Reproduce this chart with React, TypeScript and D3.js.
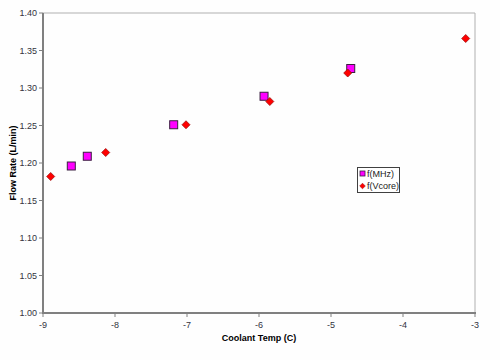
import React from "react";
import * as d3 from "d3";

const mhzX = [-8.607, -8.385, -7.185, -5.93, -4.726];
const mhzY = [1.196, 1.209, 1.251, 1.289, 1.326];
const vcoreX = [-8.893, -8.129, -7.014, -5.85, -4.768, -3.129];
const vcoreY = [1.182, 1.214, 1.251, 1.282, 1.32, 1.366];
const xTicks = [-9, -8, -7, -6, -5, -4, -3];
const yTicks = [1.0, 1.05, 1.1, 1.15, 1.2, 1.25, 1.3, 1.35, 1.4];
const seriesNames = ["f(MHz)", "f(Vcore)"];
const xLabel = "Coolant Temp (C)";
const yLabel = "Flow Rate (L/min)";

export default function App() {
  const W = 500, H = 360;
  const left = 43, right = 475, top = 13, bottom = 313;
  const x = d3.scaleLinear().domain([-9, -3]).range([left, right]);
  const y = d3.scaleLinear().domain([1.0, 1.4]).range([bottom, top]);
  const font = "Arial, 'Liberation Sans', sans-serif";
  const tickColor = "#333340";
  const diamond = (cx: number, cy: number, r: number) =>
    `M${cx},${cy - r}L${cx + r},${cy}L${cx},${cy + r}L${cx - r},${cy}Z`;
  return (
    <svg width={W} height={H} style={{ position: "absolute", left: 0, top: 0 }} fontFamily={font}>
      <rect x={0} y={0} width={W} height={H} fill="#fefefe" />
      <line x1={left} y1={top} x2={right} y2={top} stroke="#b0b0b0" strokeWidth={1} />
      <line x1={right} y1={top} x2={right} y2={bottom} stroke="#b0b0b0" strokeWidth={1} />
      <line x1={left} y1={top} x2={left} y2={bottom + 1} stroke="#808080" strokeWidth={2} />
      <line x1={left - 1} y1={bottom} x2={right + 1} y2={bottom} stroke="#808080" strokeWidth={2} />
      {yTicks.map((t) => (
        <g key={"y" + t}>
          <line x1={left - 4} x2={left} y1={y(t)} y2={y(t)} stroke="#808080" strokeWidth={1} />
          <text x={37} y={y(t)} dy="0.35em" textAnchor="end" fontSize={9} fill={tickColor}>
            {d3.format(".2f")(t)}
          </text>
        </g>
      ))}
      {xTicks.map((t) => (
        <g key={"x" + t}>
          <line x1={x(t)} x2={x(t)} y1={bottom} y2={bottom + 4} stroke="#808080" strokeWidth={1} />
          <text x={x(t)} y={328} textAnchor="middle" fontSize={9} fill={tickColor}>
            {String(t)}
          </text>
        </g>
      ))}
      <text x={(left + right) / 2} y={341} textAnchor="middle" fontSize={9} fontWeight="bold" fill="#000">
        {xLabel}
      </text>
      <text
        transform={`translate(16,${(top + bottom) / 2}) rotate(-90)`}
        textAnchor="middle"
        fontSize={9}
        fontWeight="bold"
        fill="#000"
      >
        {yLabel}
      </text>
      {mhzX.map((v, i) => (
        <rect
          key={"m" + i}
          x={x(v) - 4}
          y={y(mhzY[i]) - 4}
          width={8}
          height={8}
          fill="#ff00ff"
          stroke="#3a2040"
          strokeWidth={1}
        />
      ))}
      {vcoreX.map((v, i) => (
        <path key={"v" + i} d={diamond(x(v), y(vcoreY[i]), 4)} fill="#ff0000" stroke="#a01010" strokeWidth={0.8} />
      ))}
      <g>
        <rect x={357.5} y={167.5} width={42} height={25} fill="#fff" stroke="#404040" strokeWidth={1} />
        <rect x={360} y={171} width={5} height={5} fill="#ff00ff" stroke="#3a2040" strokeWidth={0.8} />
        <text x={367} y={176.5} fontSize={9} fill="#222">{seriesNames[0]}</text>
        <path d={diamond(362.5, 186, 2.8)} fill="#ff0000" stroke="#a01010" strokeWidth={0.6} />
        <text x={367} y={189} fontSize={9} fill="#222">{seriesNames[1]}</text>
      </g>
    </svg>
  );
}
